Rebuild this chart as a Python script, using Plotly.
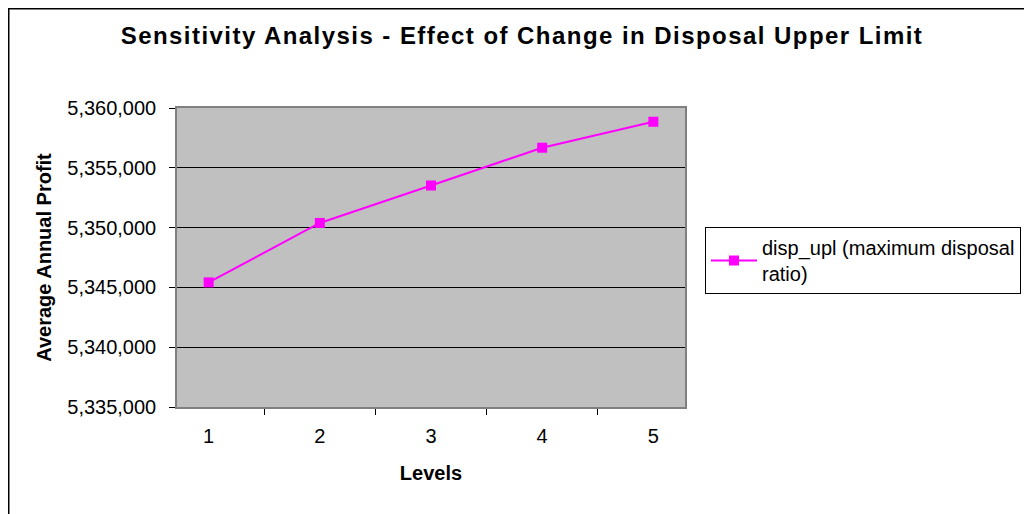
import plotly.graph_objects as go

levels = ["1", "2", "3", "4", "5"]
profit = [5345420, 5350390, 5353520, 5356680, 5358850]
series_name = "disp_upl (maximum disposal<br>ratio)"
y_ticks = [5335000, 5340000, 5345000, 5350000, 5355000, 5360000]
title_text = "Sensitivity Analysis - Effect of Change in Disposal Upper Limit"

# page body has an 8px margin; figure coordinates are page coords minus 8
OFF = 8
W, H = 1032 - OFF, 514 - OFF
L, R, T, B = 177 - OFF, 685 - OFF, 108 - OFF, 407 - OFF

fig = go.Figure()
fig.add_trace(go.Scatter(
    x=levels, y=profit, mode="lines+markers", name=series_name,
    line=dict(color="#FF00FF", width=2),
    marker=dict(symbol="square", size=10, color="#FF00FF"),
    showlegend=True,
))

pw, ph = R - L, B - T
def px2x(p):
    return (p - L) / pw
def px2y(p):
    return (B - p) / ph

fig.update_layout(
    width=W, height=H,
    margin=dict(l=L, r=W - R, t=T, b=H - B, autoexpand=False),
    paper_bgcolor="white", plot_bgcolor="#C0C0C0",
    font=dict(family="Liberation Sans, Arial, sans-serif", size=20, color="black"),
    title=dict(text=f"<b><span style='letter-spacing:1.45px'>{title_text}</span></b>",
               x=(522 - OFF) / W, xref="container", xanchor="center",
               y=1 - (36 - OFF) / H, yref="container", yanchor="middle",
               font=dict(size=24)),
    xaxis=dict(type="category", tickson="boundaries", ticks="outside", ticklen=6,
               tickcolor="black", showline=True, linecolor="#808080", linewidth=1.5,
               mirror=True, showgrid=False, ticklabelstandoff=10,
               title=dict(text="<b>Levels</b>", font=dict(size=20), standoff=20)),
    yaxis=dict(range=[5335000, 5360000], tickvals=y_ticks,
               ticktext=[f"{v:,}" for v in y_ticks],
               ticks="outside", ticklen=6, tickcolor="black", ticklabelstandoff=9,
               showline=True, linecolor="#808080", linewidth=1.5, mirror=True,
               showgrid=True, gridcolor="black", gridwidth=1, zeroline=False,
               title=dict(text="<b>Average Annual Profit</b>", font=dict(size=20), standoff=10)),
    legend=dict(x=px2x(705 - OFF), y=px2y(227 - OFF), xanchor="left", yanchor="top",
                bgcolor="white", bordercolor="black", borderwidth=1,
                itemwidth=46, font=dict(size=20), tracegroupgap=0),
    shapes=[dict(type="rect", xref="paper", yref="paper",
                 x0=px2x(0.75), x1=px2x(W + 20), y0=px2y(0.75), y1=px2y(H + 20),
                 line=dict(color="black", width=1.5), fillcolor="rgba(0,0,0,0)",
                 layer="below")],
)

fig.write_html("out.html")
